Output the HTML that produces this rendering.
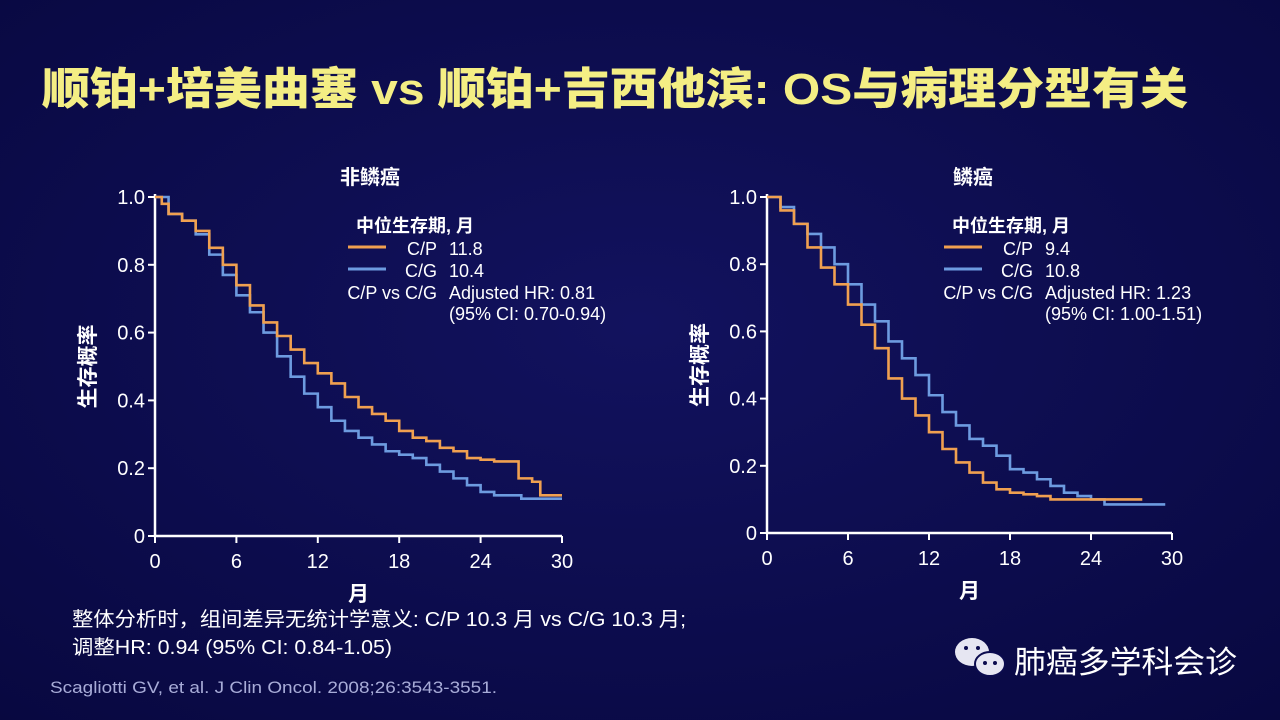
<!DOCTYPE html>
<html><head><meta charset="utf-8">
<style>
html,body{margin:0;padding:0;width:1280px;height:720px;overflow:hidden;background:#0b0b4e;}
svg{display:block}
text{font-family:"Liberation Sans","Noto Sans CJK SC",sans-serif;}
</style></head>
<body>
<svg id="s" width="1280" height="720" viewBox="0 0 1280 720">
<defs><radialGradient id="bg" cx="50%" cy="45%" r="75%"><stop offset="0" stop-color="#12125e"/><stop offset="1" stop-color="#080840"/></radialGradient></defs>
<rect width="1280" height="720" fill="url(#bg)"/>
<text x="42" y="104" font-size="44" font-weight="900" fill="#f4ee84" textLength="1146" lengthAdjust="spacingAndGlyphs">顺铂+培美曲塞 vs 顺铂+吉西他滨: OS与病理分型有关</text>
<g id="charts"></g>
<text x="72" y="626" font-size="20" fill="#ffffff" textLength="614" lengthAdjust="spacingAndGlyphs">整体分析时，组间差异无统计学意义:  C/P 10.3 月 vs C/G 10.3 月;</text>
<text x="72" y="654" font-size="20" fill="#ffffff" textLength="320" lengthAdjust="spacingAndGlyphs">调整HR: 0.94 (95% CI: 0.84-1.05)</text>
<text x="50" y="693" font-size="17" fill="#a8acd8" textLength="447" lengthAdjust="spacingAndGlyphs">Scagliotti GV, et al. J Clin Oncol. 2008;26:3543-3551.</text>
<g>
<ellipse cx="972" cy="652" rx="17" ry="14" fill="#e6e6f2"/>
<ellipse cx="990" cy="664" rx="15" ry="12" fill="#e6e6f2" stroke="#0b0b4e" stroke-width="2"/>
<circle cx="966" cy="648" r="2" fill="#0b0b4e"/><circle cx="978" cy="648" r="2" fill="#0b0b4e"/>
<circle cx="985" cy="663" r="2" fill="#0b0b4e"/><circle cx="995" cy="663" r="2" fill="#0b0b4e"/>
</g>
<text x="1014" y="673" font-size="31" fill="#ffffff" textLength="223" lengthAdjust="spacingAndGlyphs">肺癌多学科会诊</text>
</svg>
<script>
const xTicks=[0,6,12,18,24,30];
const yTicks=[0,0.2,0.4,0.6,0.8,1.0];
const leftCPt=[0,0.5,1,2,3,4,5,6,7,8,9,10,11,12,13,14,15,16,17,18,19,20,21,22,23,24,25,26.8,27.8,28.4,30];
const leftCPs=[1,0.98,0.95,0.93,0.90,0.85,0.80,0.74,0.68,0.63,0.59,0.55,0.51,0.48,0.45,0.41,0.38,0.36,0.34,0.31,0.29,0.28,0.26,0.25,0.23,0.225,0.22,0.17,0.16,0.12,0.12];
const leftCGt=[0,1,2,3,4,5,6,7,8,9,10,11,12,13,14,15,16,17,18,19,20,21,22,23,24,25,27,30];
const leftCGs=[1,0.95,0.93,0.89,0.83,0.77,0.71,0.66,0.60,0.53,0.47,0.42,0.38,0.34,0.31,0.29,0.27,0.25,0.24,0.23,0.21,0.19,0.17,0.15,0.13,0.12,0.11,0.11];
const rightCPt=[0,1,2,3,4,5,6,7,8,9,10,11,12,13,14,15,16,17,18,19,20,21,27.8];
const rightCPs=[1,0.96,0.92,0.85,0.79,0.74,0.68,0.62,0.55,0.46,0.40,0.35,0.30,0.25,0.21,0.18,0.15,0.13,0.12,0.115,0.11,0.10,0.10];
const rightCGt=[0,1,2,3,4,5,6,7,8,9,10,11,12,13,14,15,16,17,18,19,20,21,22,23,24,25,29.5];
const rightCGs=[1,0.97,0.92,0.89,0.85,0.80,0.74,0.68,0.63,0.57,0.52,0.47,0.41,0.36,0.32,0.28,0.26,0.23,0.19,0.18,0.16,0.14,0.12,0.11,0.10,0.085,0.085];
const NS="http://www.w3.org/2000/svg";
const root=document.getElementById('charts');
function el(tag,attrs,parent,txt){const e=document.createElementNS(NS,tag);for(const k in attrs)e.setAttribute(k,attrs[k]);if(txt!==undefined)e.textContent=txt;parent.appendChild(e);return e;}
function chart(cfg){
  const g=el('g',{},root);
  
  
  const X=t=>cfg.x0+(cfg.x1-cfg.x0)*t/30;
  const Y=v=>cfg.y0-(cfg.y0-cfg.y1)*v;
  const ax=el('path',{d:`M${cfg.x0},${cfg.y1-3}V${cfg.y0}H${cfg.x1}`,stroke:'#fff','stroke-width':2.5,fill:'none'},g);
  
  
  xTicks.forEach(t=>{
    const tk=el('line',{x1:X(t),x2:X(t),y1:cfg.y0,y2:cfg.y0+7,stroke:'#fff','stroke-width':2},g);
    
    
    const l=el('text',{x:X(t),y:cfg.y0+32,'font-size':20,fill:'#fff','text-anchor':'middle'},g,String(t));
    
    
  });
  yTicks.forEach(v=>{
    const tk=el('line',{x1:cfg.x0-7,x2:cfg.x0,y1:Y(v),y2:Y(v),stroke:'#fff','stroke-width':2},g);
    
    
    const l=el('text',{x:cfg.x0-10,y:Y(v)+7,'font-size':20,fill:'#fff','text-anchor':'end'},g,v===0?'0':v.toFixed(1));
    
    
  });
  const tt=el('text',{x:cfg.titleX,y:184,'font-size':20,'font-weight':'bold',fill:'#fff','text-anchor':'middle'},g,cfg.title);
  
  
  const yt=el('text',{x:0,y:0,'font-size':21,'font-weight':'bold',fill:'#fff','text-anchor':'middle',transform:`translate(${cfg.x0-60},${(cfg.y0+cfg.y1)/2}) rotate(-90)`},g,'生存概率');
  
  
  const xt=el('text',{x:(cfg.x0+cfg.x1)/2,y:cfg.y0+65,'font-size':21,'font-weight':'bold',fill:'#fff','text-anchor':'middle'},g,'月');
  
  
  function step(ts,ss,color,name){
    let d=`M${X(ts[0])},${Y(ss[0])}`;
    for(let i=1;i<ts.length;i++){d+=`H${X(ts[i])}V${Y(ss[i])}`;}
    const p=el('path',{d,stroke:color,'stroke-width':2.6,fill:'none'},g);
    
    
  }
  step(cfg.cgT,cfg.cgS,'#6d9be0','cg-curve');
  step(cfg.cpT,cfg.cpS,'#f0a050','cp-curve');
  const lx=cfg.legX;
  const lt=el('text',{x:lx+55,y:232,'font-size':18,'font-weight':'bold',fill:'#fff','text-anchor':'middle'},g,'中位生存期, 月');
  
  
  const l1=el('line',{x1:lx-12,x2:lx+26,y1:247,y2:247,stroke:'#f0a050','stroke-width':3},g);
  
  
  const l2=el('line',{x1:lx-12,x2:lx+26,y1:269,y2:269,stroke:'#6d9be0','stroke-width':3},g);
  
  
  const rows=[['C/P',cfg.cpMed,255],['C/G',cfg.cgMed,277],['C/P vs C/G','Adjusted HR: '+cfg.hr,299]];
  rows.forEach(r=>{
    const a=el('text',{x:lx+77,y:r[2],'font-size':18,fill:'#fff','text-anchor':'end'},g,r[0]);
    
    
    const b=el('text',{x:lx+89,y:r[2],'font-size':18,fill:'#fff'},g,r[1]);
    
    
  });
  const ci=el('text',{x:lx+89,y:320,'font-size':18,fill:'#fff'},g,'(95% CI: '+cfg.ci+')');
  
  
}
chart({name:'nonsquamous-chart',x0:155,x1:562,y0:536,y1:197,title:'非鳞癌',titleX:370,legX:360,cpT:leftCPt,cpS:leftCPs,cgT:leftCGt,cgS:leftCGs,cpMed:'11.8',cgMed:'10.4',hr:'0.81',ci:'0.70-0.94'});
chart({name:'squamous-chart',x0:767,x1:1172,y0:533,y1:197,title:'鳞癌',titleX:973,legX:956,cpT:rightCPt,cpS:rightCPs,cgT:rightCGt,cgS:rightCGs,cpMed:'9.4',cgMed:'10.8',hr:'1.23',ci:'1.00-1.51'});
</script>
</body></html>
